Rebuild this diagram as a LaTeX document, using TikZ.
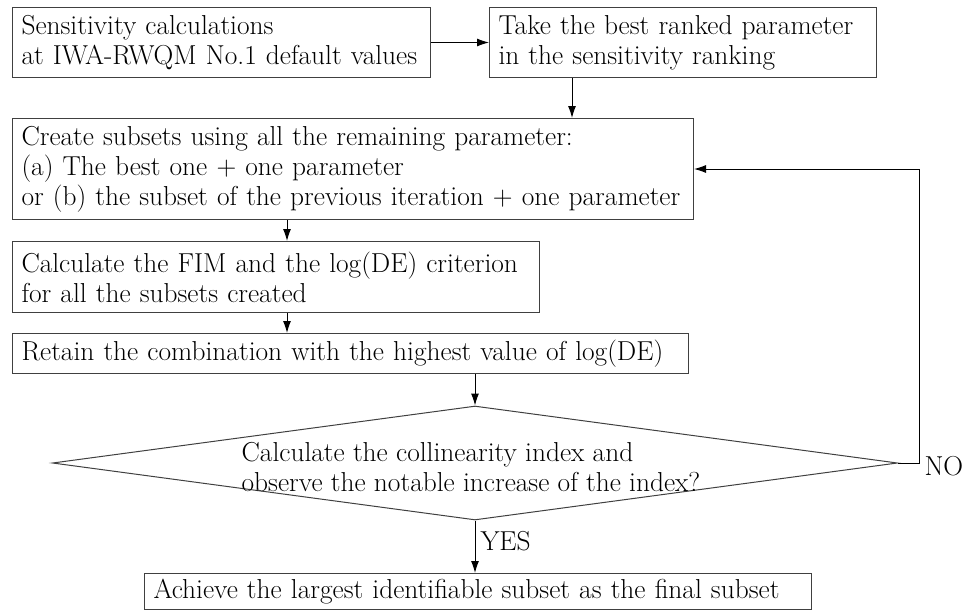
\documentclass[tikz,border=0pt]{standalone}
\usetikzlibrary{arrows.meta,calc,shapes.geometric}

\begin{document}
\begin{tikzpicture}[
		x=1pt, y=-1pt,
		font=\fontsize{27.4}{30}\selectfont,
		arrow/.style={-{Latex[length=12pt,width=8pt]}, line width=1pt},
		block/.style={draw=black!75, line width=1pt, anchor=north west, align=left, inner xsep=9pt, inner ysep=0pt},
		decision/.style={draw=black!75, line width=1pt, diamond, inner sep=0pt, minimum width=845pt, minimum height=114pt},
	]
		\useasboundingbox (0,0) rectangle (969,610);

		\node at (12,7) (sens) [block, text width=400pt, minimum height=70pt] {Sensitivity calculations\\at IWA-RWQM No.1 default values};
		\node at (489,7) (best) [block, text width=369pt, minimum height=70pt] {Take the best ranked parameter\\in the sensitivity ranking};
		\node at (12,118) (subsets) [block, text width=663pt, minimum height=101pt] {Create subsets using all the remaining parameter:\\(a) The best one + one parameter\\or (b) the subset of the previous iteration + one parameter};
		\node at (12,241) (fim) [block, text width=509pt, minimum height=71pt] {Calculate the FIM and the log(DE) criterion\\for all the subsets created};
		\node at (12,333) (retain) [block, text width=658pt, minimum height=40pt] {Retain the combination with the highest value of log(DE)};
		\node at (475,463) (check) [decision] {};
		\node at ([xshift=-4pt,yshift=-4pt]check.center) (checktext) [align=left] {Calculate the collinearity index and\\observe the notable increase of the index?};
		\node at (144,573) (final) [block, text width=649pt, minimum height=36pt] {Achieve the largest identifiable subset as the final subset};

		\draw[arrow] (sens.east) -- (best.west);
		\draw[arrow] ([xshift=83pt]best.south west) -- ([xshift=83pt]best.south west |- subsets.north);
		\draw[arrow] ([xshift=275pt]fim.north west |- subsets.south) -- ([xshift=275pt]fim.north west);
		\draw[arrow] ([xshift=275pt]fim.south west) -- ([xshift=275pt]fim.south west |- retain.north);
		\draw[arrow] (retain.south -| check.north) -- (check.north);
		\draw[arrow] (check.south) -- node[pos=0.4, right, inner xsep=5pt]{YES} (check.south |- final.north);
		\draw[arrow] (check.east) -- ++(21,0) node[right, inner xsep=5pt, yshift=-3pt]{NO} |- (subsets.east);
	\end{tikzpicture}
\end{document}
